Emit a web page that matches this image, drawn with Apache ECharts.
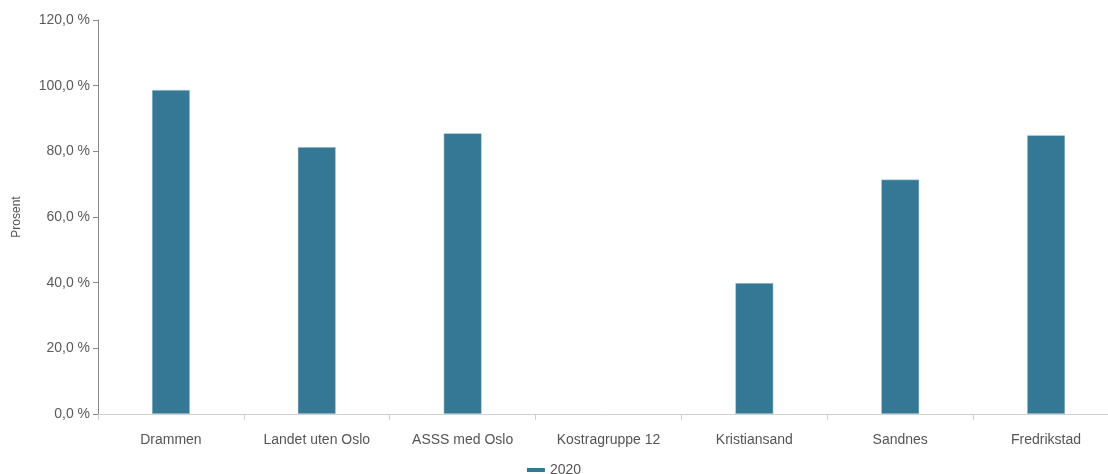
<!DOCTYPE html>
<html>
<head>
<meta charset="utf-8">
<script src="https://cdn.jsdelivr.net/npm/echarts@6/dist/echarts.min.js"></script>
<style>
html,body{margin:0;padding:0;background:#fff;}
#chart{width:1108px;height:474px;}
</style>
</head>
<body>
<div id="chart"></div>
<script>
const categories = ["Drammen", "Landet uten Oslo", "ASSS med Oslo", "Kostragruppe 12", "Kristiansand", "Sandnes", "Fredrikstad"];
const seriesName = "2020";
const values2020 = [98.7, 81.3, 85.5, null, 39.9, 71.4, 84.9];
const yAxisName = "Prosent";

const chart = echarts.init(document.getElementById('chart'));
chart.setOption({
  animation: false,
  textStyle: { fontFamily: 'Liberation Sans, Arial, sans-serif' },
  grid: { left: 98, top: 20, bottom: 60, width: 1021, outerBoundsMode: 'none', containLabel: false },
  legend: {
    data: [seriesName],
    top: 458,
    left: 'center',
    icon: 'rect',
    itemWidth: 18,
    itemHeight: 4,
    itemGap: 8,
    itemStyle: { borderWidth: 0 },
    textStyle: { color: '#555', fontSize: 14, fontFamily: 'Liberation Sans, Arial, sans-serif' }
  },
  xAxis: {
    type: 'category',
    data: categories,
    axisLine: { lineStyle: { color: '#d0d0d0', width: 1 } },
    axisTick: { show: true, alignWithLabel: false, length: 6, lineStyle: { color: '#d0d0d0' } },
    axisLabel: { color: '#555', fontSize: 14, margin: 19, interval: 0 }
  },
  yAxis: {
    type: 'value',
    min: 0,
    max: 120,
    interval: 20,
    name: yAxisName,
    nameLocation: 'middle',
    nameGap: 75,
    nameRotate: 90,
    nameTextStyle: { color: '#555', fontSize: 12 },
    axisLine: { show: true, lineStyle: { color: '#888' } },
    axisTick: { show: true, length: 5, lineStyle: { color: '#888' } },
    splitLine: { show: false },
    axisLabel: {
      color: '#5a5a5a', fontSize: 14, margin: 8,
      formatter: v => v.toFixed(1).replace('.', ',') + ' %'
    }
  },
  series: [{
    name: seriesName,
    type: 'bar',
    data: values2020,
    barWidth: 38,
    itemStyle: { color: '#347895', borderColor: '#c9d9e1', borderWidth: 0.5 }
  }]
});
</script>
</body>
</html>
